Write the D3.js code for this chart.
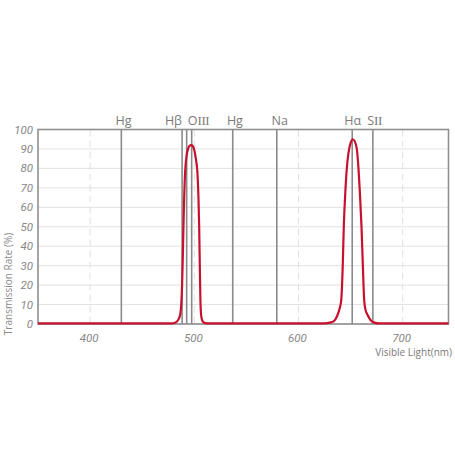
<!DOCTYPE html>
<html>
<head>
<meta charset="utf-8">
<script src="https://cdn.jsdelivr.net/npm/d3@7"></script>
<style>
  html, body { margin: 0; padding: 0; background: #fff; }
  svg { display: block; }
</style>
</head>
<body>
<svg id="chart" width="455" height="455"></svg>
<script>
// transmission curve, wavelength (nm) vs percent
var wavelengths = [350, 478, 482, 485, 486.5, 487.5, 488.3, 489, 489.6, 490.3, 491.2, 492.5, 494, 495.5, 497, 498.5, 500, 501.5, 503, 504, 504.7, 505.3, 505.9, 506.5, 507.5, 509, 512,
                   625, 630, 634, 637, 639.5, 641, 642.5, 643.5, 645, 646.4, 648, 650, 652, 654, 656, 657.6, 659, 660.5, 661.8, 663.1, 664.5, 666, 668, 670, 673, 677, 744];
var transmission = [0.3, 0.3, 0.8, 2.5, 5, 10, 20, 35, 50, 65, 78, 86, 90, 91.6, 92, 91.5, 89.5, 85, 78, 65, 50, 30, 12, 5, 2, 0.8, 0.3,
                    0.3, 0.7, 1.5, 4, 8, 12, 30, 50, 68, 80, 88, 93, 95, 94, 90, 80, 67, 50, 30, 12, 7, 5, 3, 1.5, 0.7, 0.3, 0.3];

// spectral lines: element part and roman numeral part of each label
var lineNames  = ['Hg', 'H\u03b2', '', 'O', 'Hg', 'Na', 'H\u03b1', 'S'];
var lineIon    = ['', '', '', 'III', '', '', '', 'II'];
var lineNm     = [430, 488.3, 492.7, 497.5, 536.9, 579.2, 651.6, 671.4];
var labelNm    = [432, 480, null, 504, 539, 582, 652, 673];

var xTicks = [400, 500, 600, 700];
var yTicks = [0, 10, 20, 30, 40, 50, 60, 70, 80, 90, 100];

var svg = d3.select('#chart');

var x = d3.scaleLinear().domain([350, 744]).range([38, 448.5]),
	y = d3.scaleLinear().domain([0, 100]).range([324, 129.5]);

// horizontal grid
svg.append('g').selectAll('line').data(yTicks).enter().append('line')
	.attr('x1', x(350)).attr('x2', x(744))
	.attr('y1', function (d) { return y(d); }).attr('y2', function (d) { return y(d); })
	.attr('stroke', '#e2e2e2').attr('stroke-width', 1);

// vertical dashed grid
svg.append('g').selectAll('line').data(xTicks).enter().append('line')
	.attr('x1', function (d) { return x(d); }).attr('x2', function (d) { return x(d); })
	.attr('y1', y(100)).attr('y2', y(0))
	.attr('stroke', '#e0e0e0').attr('stroke-width', 1)
	.attr('stroke-dasharray', '7,4');

// frame
svg.append('rect')
	.attr('x', x(350)).attr('y', y(100))
	.attr('width', x(744) - x(350)).attr('height', y(0) - y(100))
	.attr('fill', 'none').attr('stroke', '#8f8f8f').attr('stroke-width', 1.6);

// emission lines
svg.append('g').selectAll('line').data(lineNm).enter().append('line')
	.attr('x1', function (d) { return x(d); }).attr('x2', function (d) { return x(d); })
	.attr('y1', y(100)).attr('y2', y(0))
	.attr('stroke', '#8a8a8a').attr('stroke-width', 1.6);

var labels = svg.append('g').selectAll('text').data(labelNm).enter().append('text')
	.filter(function (d) { return d !== null; })
	.attr('x', function (d) { return x(d); })
	.attr('y', 125)
	.attr('text-anchor', 'middle')
	.attr('font-family', '"Open Sans", "DejaVu Sans", sans-serif')
	.attr('font-size', 12.5)
	.attr('fill', '#7a7a7a');

labels.each(function (d) {
	var i = labelNm.indexOf(d), t = d3.select(this);
	t.append('tspan').text(lineNames[i]);
	if (lineIon[i]) {
		t.append('tspan')
			.attr('font-family', '"Liberation Serif", "DejaVu Serif", serif')
			.attr('font-size', 13)
			.attr('letter-spacing', -0.5)
			.text(lineIon[i]);
	}
});

// curve
var pts = wavelengths.map(function (w, i) { return [w, transmission[i]]; });
svg.append('path')
	.datum(pts)
	.attr('fill', 'none')
	.attr('stroke', '#c8102e')
	.attr('stroke-width', 2.2)
	.attr('stroke-linejoin', 'round')
	.attr('d', d3.line()
		.x(function (d) { return x(d[0]); })
		.y(function (d) { return y(d[1]); })
		.curve(d3.curveMonotoneX));

// y tick labels
svg.append('g').selectAll('text').data(yTicks).enter().append('text')
	.attr('x', 33)
	.attr('y', function (d) { return y(d); })
	.attr('dy', '0.35em')
	.attr('text-anchor', 'end')
	.attr('font-family', '"Liberation Sans Narrow", Roboto, sans-serif')
	.attr('font-style', 'italic')
	.attr('font-size', 11.5)
	.attr('fill', '#888')
	.text(function (d) { return d; });

// x tick labels
svg.append('g').selectAll('text').data(xTicks).enter().append('text')
	.attr('x', function (d) { return x(d) - 1; })
	.attr('y', 342)
	.attr('text-anchor', 'middle')
	.attr('font-family', '"Liberation Sans Narrow", Roboto, sans-serif')
	.attr('font-style', 'italic')
	.attr('font-size', 11.5)
	.attr('fill', '#888')
	.text(function (d) { return d; });

// axis titles
svg.append('text')
	.attr('transform', 'translate(12,284) rotate(-90)')
	.attr('text-anchor', 'middle')
	.attr('font-family', '"Open Sans", sans-serif')
	.attr('font-size', 10)
	.attr('fill', '#8a8a8a')
	.text('Transmission Rate (%)');

svg.append('text')
	.attr('x', 452).attr('y', 356)
	.attr('text-anchor', 'end')
	.attr('font-family', '"Open Sans", sans-serif')
	.attr('font-size', 10)
	.attr('fill', '#7a7a7a')
	.text('Visible Light(nm)');
</script>
</body>
</html>
